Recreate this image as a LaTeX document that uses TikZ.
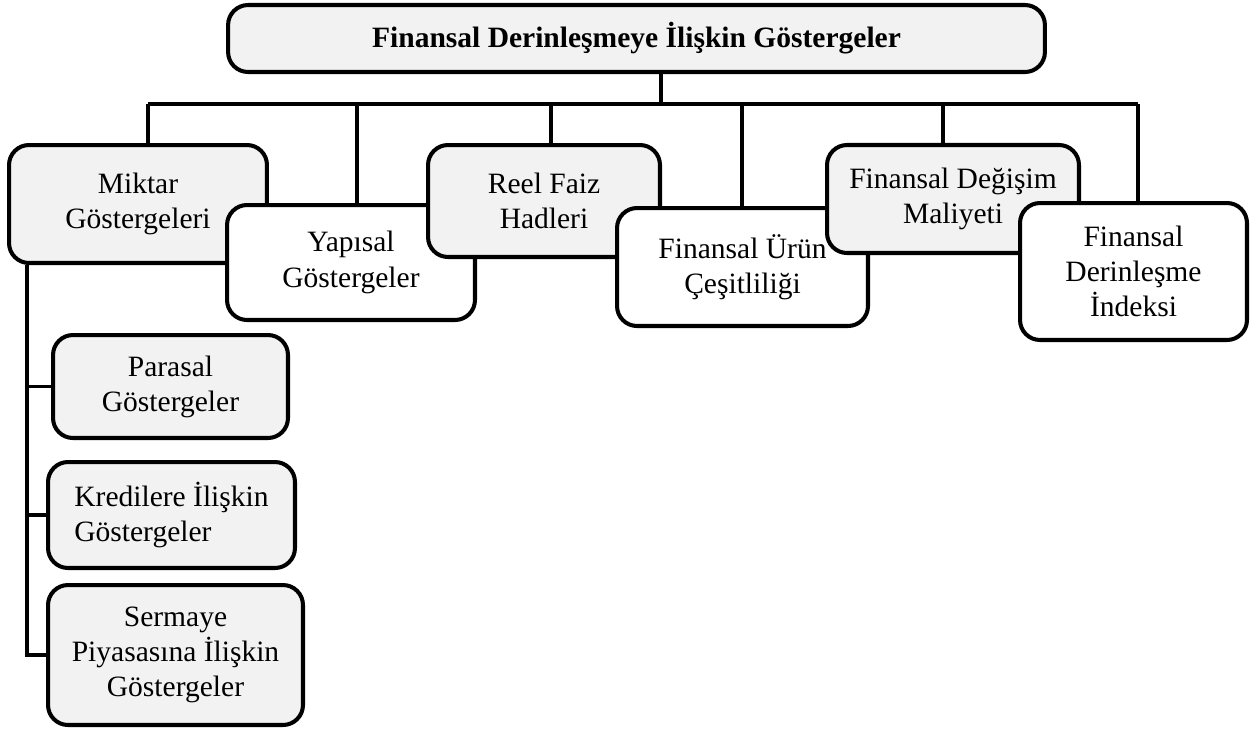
\documentclass[tikz,border=0pt]{standalone}
\usepackage{fontspec}
\setmainfont{Liberation Serif}
\tikzset{
	kutu/.style={draw, line width=2.3pt, rounded corners=0.4cm, align=center, inner sep=0pt,
		font=\fontsize{16.8}{20}\selectfont},
	gri/.style={kutu, fill=black!5},
	beyaz/.style={kutu, fill=white},
	bag/.style={line width=2pt}
}
\begin{document}
\begin{tikzpicture}[x=0.02cm, y=-0.02cm]
	\useasboundingbox (0,0) rectangle (1253,728);
	% ana kutu
	\node[gri, minimum width=16.34cm, minimum height=1.34cm, font=\fontsize{16.8}{20}\selectfont\bfseries] (ana) at (636.5,38.5) {Finansal Derinleşmeye İlişkin Göstergeler};
	% alt kutular
	\node[gri, minimum width=5.16cm, minimum height=2.36cm] (miktar) at (138,204) {Miktar\\Göstergeleri};
	\node[beyaz, minimum width=4.96cm, minimum height=2.3cm] (yapisal) at (351,262.5) {Yapısal\\Göstergeler};
	\node[gri, minimum width=4.64cm, minimum height=2.24cm] (reel) at (544,201) {Reel Faiz\\Hadleri};
	\node[beyaz, minimum width=5.02cm, minimum height=2.36cm] (urun) at (742.5,267) {Finansal Ürün\\Çeşitliliği};
	\node[gri, minimum width=5.04cm, minimum height=2.16cm] (degisim) at (953,199) {Finansal Değişim\\Maliyeti};
	\node[beyaz, minimum width=4.54cm, minimum height=2.74cm] (indeks) at (1133.5,271.5) {Finansal\\Derinleşme\\İndeksi};
	\node[gri, minimum width=4.7cm, minimum height=2.06cm] (parasal) at (170.5,386.5) {Parasal\\Göstergeler};
	\node[gri, minimum width=4.94cm, minimum height=2.12cm, align=left] (kredi) at (171.5,515) {Kredilere İlişkin\\Göstergeler};
	\node[gri, minimum width=5.1cm, minimum height=2.8cm] (sermaye) at (175.5,655) {Sermaye\\Piyasasına İlişkin\\Göstergeler};
	% baglantilar
	\coordinate (b1) at (148,104);
	\coordinate (b2) at (357,104);
	\coordinate (b3) at (551,104);
	\coordinate (b4) at (742,104);
	\coordinate (b5) at (943,104);
	\coordinate (b6) at (1138,104);
	\coordinate (sap) at (661,104);
	\coordinate (omurga) at (27,263);
	\draw[bag] (ana.south -| sap) -- (sap);
	\draw[bag] (b1) -- (b6);
	\foreach \b/\n in {b1/miktar, b2/yapisal, b3/reel, b4/urun, b5/degisim, b6/indeks}
		\draw[bag] (\b) -- (\b |- \n.north);
	\draw[bag] (omurga |- miktar.south) -- (omurga |- sermaye.west) -- (sermaye.west);
	\draw[bag] (omurga |- parasal.west) -- (parasal.west);
	\draw[bag] (omurga |- kredi.west) -- (kredi.west);
\end{tikzpicture}
\end{document}
